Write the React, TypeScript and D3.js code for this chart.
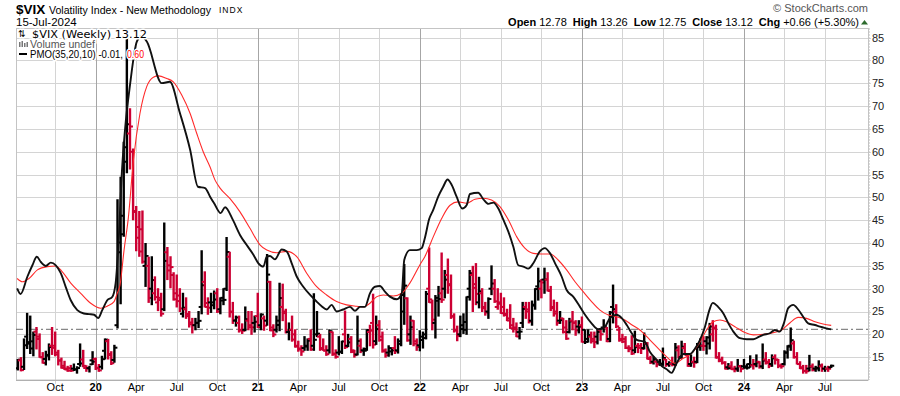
import React from 'react';
import * as d3 from 'd3';

// ---------- DATA ----------
const firstWeek = '2019-07-15';
const prevClose = 12.39;
// weekly [open, high, low, close]
const ohlc2019: number[][] = [
  [12.6,14.5,12.2,14.45],[14.3,14.9,12.0,12.16],[12.9,19.0,12.3,17.61],[19.5,24.6,16.9,17.97],
  [18.3,24.0,15.8,18.47],[16.9,20.5,15.3,19.87],[20.6,21.5,16.8,18.98],[19.5,20.1,15.0,15.0],
  [15.0,16.0,13.7,13.74],[14.6,16.3,13.3,15.32],[15.5,17.9,14.4,17.22],[17.5,21.5,15.6,17.04],
  [17.5,20.5,15.3,15.58],[16.0,16.5,13.3,14.25],[14.3,14.8,12.6,12.65],[13.1,14.1,12.3,12.3],
  [12.5,13.0,11.9,12.07],[12.6,13.2,11.9,12.05],[12.5,13.5,12.1,12.34],[12.3,12.9,11.5,12.62],
  [13.5,17.9,13.0,13.62],[14.5,16.5,12.9,12.63],[13.1,13.1,11.9,12.51],[12.6,13.0,11.75,13.43],
  [14.3,16.2,13.4,14.02],
];
const ohlc2020: number[][] = [
  [14.6,14.8,12.3,12.56],[12.7,13.4,11.9,12.1],[12.9,15.2,12.4,14.56],[16.4,19.0,14.6,18.84],
  [18.5,18.9,14.6,15.47],[15.7,16.2,13.4,13.68],[14.4,17.6,13.9,17.08],[22.0,49.5,21.4,40.11],
  [38.0,54.4,26.7,41.94],[46.0,62.1,41.5,57.83],[61.0,85.5,55.4,66.04],[64.0,69.4,56.2,65.54],
  [60.0,60.6,45.1,46.8],[47.0,48.0,38.3,41.17],[43.5,46.9,37.1,38.15],[43.0,47.0,35.6,35.93],
  [35.0,39.9,30.5,37.19],[35.0,36.9,27.0,27.98],[30.0,37.0,26.5,31.89],[29.0,32.6,27.5,28.16],
  [27.0,30.0,25.2,27.51],[28.0,29.0,24.0,24.52],[25.5,44.4,25.2,36.09],[38.0,39.0,32.0,35.12],
  [34.0,37.0,30.2,34.73],[33.0,33.5,27.5,27.68],[29.0,33.0,26.0,27.29],[28.5,30.0,25.0,25.68],
  [24.5,29.0,23.8,25.84],[25.5,28.0,23.5,24.46],[24.0,25.0,21.6,22.21],[22.6,23.5,20.3,22.05],
  [22.0,23.5,21.0,22.54],[22.5,25.0,21.5,22.96],[26.0,38.3,24.5,30.75],[31.5,33.7,26.0,26.87],
  [26.0,28.0,24.4,25.83],[27.0,29.0,24.8,26.38],[27.0,29.5,25.6,27.63],[29.0,30.0,24.8,25.0],
  [25.5,28.0,24.5,27.41],[28.0,30.0,26.5,27.55],[30.0,41.2,29.6,38.02],[37.0,38.0,23.8,24.86],
  [25.0,27.0,22.4,23.1],[23.0,24.0,21.8,23.7],[22.5,24.0,20.5,20.84],[21.0,22.3,20.2,20.79],
  [21.0,26.0,20.8,23.31],[23.0,25.0,21.0,21.57],[22.0,25.0,20.0,21.53],[22.5,24.0,20.5,22.75],
];
const ohlc2021: number[][] = [
  [24.0,29.0,21.5,21.56],[22.0,24.5,21.0,24.34],[23.5,24.0,20.9,21.91],[23.0,37.5,22.0,33.09],
  [31.5,31.6,20.8,20.87],[21.5,22.1,19.5,19.97],[21.0,24.0,20.5,22.05],[23.0,31.2,20.8,27.95],
  [26.0,31.0,23.0,24.66],[25.0,25.5,20.3,20.69],[20.5,22.5,18.8,20.95],[21.0,24.0,18.5,18.86],
  [20.0,21.0,17.2,17.33],[17.5,18.5,16.3,16.69],[16.9,17.5,15.4,16.25],[17.0,19.5,16.5,17.33],
  [17.5,19.0,16.5,18.61],[19.0,21.0,16.5,16.69],[17.5,28.9,16.5,18.81],[20.0,25.0,19.5,20.15],
  [19.5,20.0,16.5,16.76],[17.0,19.0,16.5,16.42],[16.5,17.5,15.4,15.65],[16.5,21.0,15.9,20.7],
  [20.5,20.5,15.4,15.62],[15.8,16.6,14.8,15.07],[16.0,19.5,15.5,16.18],[16.2,18.5,15.8,18.45],
  [20.0,25.1,16.9,17.2],[17.5,20.0,17.3,18.24],[19.0,19.5,16.0,16.15],[16.5,16.5,15.0,15.45],
  [15.6,24.0,15.5,18.56],[17.5,19.0,16.0,16.39],[16.5,17.0,15.4,16.41],[16.8,21.0,16.5,20.95],
  [20.5,22.0,17.5,20.81],[22.5,28.8,17.0,17.75],[18.5,24.0,17.8,21.15],[22.0,23.0,18.5,18.77],
  [19.5,20.5,16.1,16.3],[16.5,16.8,15.0,15.43],[16.0,17.5,15.2,16.26],[17.0,17.0,15.5,16.48],
  [17.0,19.5,15.8,16.29],[16.5,19.0,15.9,17.91],[18.5,28.9,17.5,28.62],[25.0,35.3,22.2,30.67],
  [27.9,28.0,18.5,18.69],[20.0,24.0,17.8,21.57],[23.0,23.0,17.5,17.96],[18.5,19.0,16.5,17.22],
];
const ohlc2022: number[][] = [
  [17.6,20.8,16.4,18.76],[19.5,20.5,17.0,19.19],[20.0,29.4,19.0,28.85],[30.0,38.9,27.0,27.66],
  [27.0,27.5,21.0,23.22],[22.5,28.5,19.2,27.36],[28.0,30.5,24.0,27.75],[29.0,37.8,27.0,27.59],
  [30.0,34.0,28.0,31.98],[33.0,36.5,29.0,30.75],[31.0,33.0,23.5,23.87],[24.0,24.5,20.5,20.81],
  [21.0,21.8,18.6,19.63],[20.0,24.0,19.5,21.16],[22.0,24.5,20.2,22.7],[21.0,28.2,20.0,28.21],
  [30.0,34.0,27.5,33.4],[33.0,34.9,25.0,30.19],[31.0,35.5,26.5,28.87],[27.0,32.5,25.8,29.43],
  [29.0,30.0,25.0,25.72],[26.0,27.0,24.2,24.79],[25.0,28.0,23.5,27.75],[30.0,35.0,28.7,31.13],
  [30.0,32.0,27.0,27.23],[26.0,30.0,25.5,26.7],[27.0,29.0,24.6,24.64],[26.0,28.0,24.0,24.23],
  [24.5,25.5,23.0,23.03],[23.5,26.5,21.3,21.33],[22.0,23.5,20.5,21.15],[21.5,22.5,19.5,19.53],
  [20.5,21.5,19.0,20.6],[22.5,27.0,21.5,25.56],[26.0,27.0,23.5,25.47],[25.0,27.0,22.5,22.79],
  [23.0,27.3,22.0,26.3],[26.5,30.0,25.5,29.92],[30.5,34.5,27.5,31.62],[30.0,32.0,28.0,31.36],
  [32.0,34.5,29.0,32.02],[32.0,33.5,29.5,29.69],[29.5,30.5,25.2,25.75],[26.0,27.5,24.0,24.55],
  [25.0,27.0,22.0,22.52],[23.0,25.0,22.4,23.12],[23.5,23.5,20.3,20.5],[21.5,23.0,18.9,19.06],
  [20.5,23.5,20.3,22.83],[23.0,25.0,21.0,22.62],[22.5,23.0,19.8,20.87],[21.7,23.0,20.3,21.67],
];
const ohlc2023: number[][] = [
  [22.0,23.8,18.3,18.35],[21.0,21.0,18.0,18.35],[19.0,21.0,18.3,19.85],[19.5,20.5,18.1,18.51],
  [19.0,20.5,17.1,18.33],[19.5,21.0,17.9,20.53],[21.0,21.0,18.7,20.02],[21.5,23.2,20.5,21.67],
  [21.5,21.5,18.4,18.49],[19.0,25.0,18.4,24.8],[26.0,30.8,22.5,25.51],[25.0,26.5,21.5,21.74],
  [21.0,21.5,18.5,18.7],[19.0,20.0,18.2,18.4],[19.0,19.5,16.9,17.07],[17.0,17.5,16.2,16.77],
  [17.0,19.7,15.6,15.78],[16.5,20.7,16.0,17.19],[17.5,18.0,16.0,17.03],[17.5,18.0,15.8,16.81],
  [17.0,20.3,16.8,17.95],[18.0,18.2,14.6,14.6],[14.8,15.2,13.6,13.83],[14.0,15.0,13.5,14.5],
  [14.0,14.5,12.9,13.44],[14.0,14.5,13.2,13.59],[13.5,17.0,13.2,14.83],[14.5,14.5,13.0,13.34],
  [13.5,14.0,13.0,13.6],[13.5,15.0,13.1,13.33],[13.5,18.0,13.2,17.1],[16.5,17.5,14.8,14.84],
  [15.0,18.5,14.8,17.3],[17.0,18.0,15.5,15.68],[15.5,15.5,13.0,13.09],[13.5,15.5,13.0,13.84],
  [14.0,15.0,12.8,13.79],[14.0,18.0,13.8,17.2],[17.5,19.0,16.5,17.52],[17.5,19.5,16.5,17.45],
  [18.5,19.5,15.7,19.32],[18.0,22.4,16.8,21.71],[20.0,23.0,18.5,21.27],[21.5,22.0,14.8,14.91],
  [15.0,16.0,14.0,14.17],[14.5,15.0,13.5,13.8],[13.8,14.0,12.4,12.46],[12.8,13.6,12.4,12.63],
  [13.0,14.0,12.3,12.35],[12.5,13.0,11.8,12.28],[12.5,14.5,11.9,13.03],[13.0,13.2,11.8,12.45],
];
const ohlc2024: number[][] = [
  [13.0,14.5,12.6,12.7],[13.0,13.5,12.4,12.7],[13.5,15.3,12.8,13.3],[13.2,14.5,12.4,13.26],
  [13.5,15.5,12.9,13.85],[14.0,14.0,12.6,12.93],[13.0,17.9,12.5,14.24],[14.5,16.0,13.5,13.75],
  [14.0,14.5,12.7,13.11],[13.5,15.5,13.0,14.74],[15.0,15.5,13.5,14.41],[14.5,14.5,12.7,13.06],
  [13.2,13.5,12.6,13.01],[13.5,16.4,13.3,16.03],[16.0,17.5,14.8,17.31],[17.5,21.4,16.5,18.71],
  [18.0,18.5,14.8,15.03],[15.0,16.0,13.5,13.49],[13.5,14.0,12.5,12.55],[12.8,13.2,11.5,11.99],
  [12.0,13.2,11.5,11.93],[12.5,15.4,12.0,12.92],[13.0,13.5,12.0,12.22],[12.5,13.0,11.9,12.66],
  [12.5,14.2,12.0,13.2],[13.0,13.5,11.9,12.44],[12.5,13.0,11.9,12.48],[12.5,13.0,11.9,12.46],
  [12.78,13.26,12.75,13.12],
];
// PMO line and its signal: [weeks since first bar, value]
const pmoLine: number[][] = [
  [-0.2,6.2],[0.9,5.35],[3.1,8.0],[4.7,9.7],[6.1,11.0],[7.4,10.2],[9.0,9.6],[10.6,10.1],[12.2,9.7],
  [13.8,8.5],[15.4,6.4],[17.0,4.4],[19.1,2.9],[21.2,2.4],[22.9,2.3],[24.5,2.2],[25.8,1.7],[27.1,2.9],
  [28.7,4.4],[30.3,4.9],[31.4,7.0],[32.2,12.0],[33.5,24.6],[34.4,30.2],[36.0,37.0],[38.2,43.6],
  [39.7,44.4],[41.4,43.6],[46.2,37.3],[48.8,37.5],[52.0,32.8],[55.3,27.2],[57.8,21.6],[60.1,21.4],
  [61.7,20.1],[63.0,19.1],[65.1,17.6],[66.5,18.5],[69.1,16.5],[71.3,14.3],[73.4,12.8],[75.6,11.3],
  [77.2,10.0],[78.8,9.5],[79.9,11.0],[80.9,11.1],[82.5,10.6],[84.7,12.1],[86.3,11.8],[87.9,10.0],
  [89.5,8.0],[91.6,6.45],[93.8,5.2],[95.9,4.2],[97.5,3.5],[99.1,3.0],[100.7,3.7],[102.3,2.7],
  [104.4,3.0],[106.6,3.4],[108.2,2.8],[109.8,3.4],[111.4,3.4],[113.0,5.45],[114.6,6.45],[116.2,6.55],
  [117.8,5.7],[119.4,4.95],[121.6,4.55],[123.2,5.45],[124.0,10.5],[125.8,12.0],[128.0,12.0],
  [129.6,12.3],[130.6,13.8],[132.0,16.7],[133.3,18.1],[134.9,20.1],[136.5,21.6],[137.9,22.7],
  [139.2,21.9],[140.8,20.1],[142.6,18.3],[144.0,18.8],[145.1,20.5],[147.7,20.7],[149.4,19.7],
  [151.0,19.0],[152.6,19.2],[154.2,18.3],[155.8,16.6],[157.4,14.8],[159.0,12.5],[160.6,9.7],
  [162.2,9.5],[163.8,9.2],[165.4,10.0],[167.5,11.8],[169.1,12.3],[170.8,11.5],[172.4,10.0],
  [174.5,8.0],[176.1,5.95],[178.2,4.95],[180.4,3.4],[182.0,2.2],[184.1,0.9],[186.2,0.0],[188.4,0.4],
  [190.0,1.7],[192.1,2.2],[193.8,1.7],[195.4,0.65],[197.0,-0.6],[198.6,-1.6],[201.2,-1.9],
  [202.8,-3.4],[205.0,-4.65],[206.6,-5.55],[208.2,-6.05],[209.8,-6.6],[211.4,-5.15],[213.5,-3.75],
  [215.7,-3.75],[217.3,-2.9],[218.9,-1.6],[220.5,0.4],[221.9,2.9],[223.0,4.0],[224.7,3.4],
  [226.4,2.4],[228.0,0.9],[229.6,-0.35],[231.7,-1.35],[233.9,-1.5],[236.0,-1.5],[237.6,-1.2],
  [239.2,-0.85],[241.3,-0.6],[242.9,-0.1],[244.5,-0.35],[245.8,0.9],[247.2,3.2],[248.8,3.7],
  [250.4,3.0],[252.0,1.9],[253.6,0.9],[255.8,0.65],[257.4,0.4],[259.5,0.15],[261,-0.01],
];
const pmoSignal: number[][] = [
  [-0.2,7.7],[1.5,7.2],[3.6,7.7],[6.3,9.0],[9.5,9.5],[12.2,9.6],[14.3,8.7],[17.0,7.0],[20.2,5.45],
  [23.4,3.95],[26.6,3.2],[28.7,3.5],[30.9,4.2],[31.9,5.45],[32.8,6.7],[34.1,12.0],[35.5,17.0],
  [37.1,25.6],[39.2,32.7],[41.4,36.8],[43.5,38.2],[45.1,38.4],[47.8,38.0],[49.9,37.5],[52.6,35.5],
  [55.3,32.7],[57.4,29.7],[59.5,26.9],[61.7,24.6],[63.3,22.6],[64.9,21.4],[68.1,19.8],[71.3,17.8],
  [74.5,15.3],[77.7,12.8],[79.9,12.0],[83.1,11.6],[86.3,11.8],[89.5,11.0],[92.7,8.5],[95.9,6.45],
  [99.1,5.2],[102.3,4.2],[105.5,3.7],[108.7,3.5],[110.9,3.4],[113.0,3.95],[115.2,4.95],[117.3,5.2],
  [120.5,5.05],[123.2,5.45],[125.8,7.0],[129.0,9.75],[130.6,11.0],[133.3,14.0],[136.0,16.8],
  [138.7,18.8],[141.3,19.3],[144.0,19.1],[146.7,19.7],[149.4,19.85],[152.0,19.6],[154.7,18.6],
  [157.4,16.6],[160.1,14.0],[162.7,12.3],[165.4,11.5],[168.1,11.4],[170.8,11.4],[173.4,10.5],
  [176.1,9.0],[178.8,7.2],[181.4,5.7],[184.1,4.2],[186.8,2.9],[189.5,2.15],[192.1,1.9],[194.8,1.4],
  [197.1,0.65],[199.6,-0.1],[202.8,-1.6],[206.0,-3.15],[208.7,-4.4],[210.9,-5.15],[213.5,-4.4],
  [216.2,-3.65],[218.9,-1.9],[221.0,-0.1],[223.1,1.15],[225.3,1.4],[227.4,1.15],[230.1,0.4],
  [233.3,-0.5],[236.0,-0.85],[239.2,-0.75],[242.4,-0.5],[245.1,-0.1],[247.8,1.0],[250.4,1.8],
  [253.1,1.65],[255.8,1.15],[258.4,0.8],[261,0.6],
];
const priceTicks = [15, 20, 25, 30, 35, 40, 45, 50, 55, 60, 65, 70, 75, 80, 85];
const monthNames = ['Jan','Feb','Mar','Apr','May','Jun','Jul','Aug','Sep','Oct','Nov','Dec'];
const quoteItems = [['Open','12.78'],['High','13.26'],['Low','12.75'],['Close','13.12'],['Chg','+0.66 (+5.30%)']];

// ---------- CHART ----------
const W = 900, H = 396;
const L = 16, R = 868, T = 28.5, B = 380;
const RED = '#cc0033';
const FONT = '"Liberation Sans", Arial, sans-serif';

export default function App() {
  const bars = [...ohlc2019, ...ohlc2020, ...ohlc2021, ...ohlc2022, ...ohlc2023, ...ohlc2024];
  const start = new Date(firstWeek + 'T00:00:00Z');
  const dates = bars.map((_, i) => d3.utcDay.offset(start, 7 * i));

  const x = d3.scaleLinear().domain([-0.57, 272.8]).range([L, R]);
  const y = d3.scaleLinear().domain([10, 87]).range([B, T]);
  const p = d3.scaleLinear().domain([0, 40]).range([329.3, 65.3]);

  const line = d3.line<number[]>().x(d => x(d[0])).y(d => p(d[1])).curve(d3.curveMonotoneX);

  const xTicks: { i: number; label: string; year: boolean }[] = [];
  dates.forEach((d, i) => {
    if (i === 0) return;
    const m = d.getUTCMonth();
    if (m !== dates[i - 1].getUTCMonth() && m % 3 === 0) {
      xTicks.push({ i, label: m === 0 ? String(d.getUTCFullYear()).slice(2) : monthNames[m], year: m === 0 });
    }
  });

  const halo = { paintOrder: 'stroke' as const, stroke: '#fff', strokeWidth: 3, strokeLinejoin: 'round' as const };

  return (
    <svg width={W} height={H} style={{ position: 'absolute', left: 0, top: 0, background: '#fff' }} fontFamily={FONT}>
      <rect x={0} y={0} width={W} height={H} fill="#fff" />
      <defs>
        <clipPath id="plotClip"><rect x={L} y={T} width={R - L} height={B - T} /></clipPath>
      </defs>

      {/* header */}
      <text x={16} y={13.5} fontSize={13.5} fontWeight="bold">$VIX</text>
      <text x={49} y={13.5} fontSize={10.6}>Volatility Index - New Methodology</text>
      <text x={219} y={13} fontSize={8.5} letterSpacing={1}>INDX</text>
      <text x={16} y={26} fontSize={11.5}>15-Jul-2024</text>
      <text x={868} y={11.5} fontSize={11} fill="#555" textAnchor="end">© StockCharts.com</text>
      <text x={859} y={25.5} fontSize={11} textAnchor="end">
        {quoteItems.map(([k, v], j) => (
          <tspan key={k}>
            <tspan fontWeight="bold" dx={j === 0 ? 0 : 6}>{k}</tspan>
            <tspan dx={3}>{v}</tspan>
          </tspan>
        ))}
      </text>
      <path d="M861,24.5 L868,24.5 L864.5,20 Z" fill="#2d6b2d" />

      {/* grid */}
      {priceTicks.map(t => (
        <line key={'h' + t} x1={L} x2={R + 3} y1={Math.round(y(t)) + 0.5} y2={Math.round(y(t)) + 0.5} stroke="#d4d4d4" />
      ))}
      {xTicks.map(t => (
        <line key={'v' + t.i} x1={Math.round(x(t.i)) + 0.5} x2={Math.round(x(t.i)) + 0.5} y1={T} y2={B + 4}
          stroke={t.year ? '#a6a6a6' : '#d4d4d4'} />
      ))}
      <rect x={L + 0.5} y={T} width={R - L} height={B - T} fill="none" stroke="#c4c4c4" />
      <line x1={L} x2={R} y1={B + 0.5} y2={B + 0.5} stroke="#b0b0b0" />
      <line x1={R + 1.5} x2={R + 1.5} y1={T} y2={B} stroke="#bbb" strokeDasharray="1,2" />

      {/* PMO zero line */}
      <line x1={L} x2={R} y1={p(0)} y2={p(0)} stroke="#6a6a6a" strokeDasharray="7,3,2,3" />

      <g clipPath="url(#plotClip)">
        {bars.map((d, i) => {
          const [o, h, l, c] = d;
          const pc = i === 0 ? prevClose : bars[i - 1][3];
          const col = c >= pc ? '#000' : RED;
          const cx = x(i);
          return (
            <g key={i} stroke={col}>
              <line x1={cx} x2={cx} y1={y(h) - 0.5} y2={y(l) + 0.5} strokeWidth={2.4} />
              <line x1={cx - 3} x2={cx} y1={y(o)} y2={y(o)} strokeWidth={2} />
              <line x1={cx} x2={cx + 3} y1={y(c)} y2={y(c)} strokeWidth={2} />
            </g>
          );
        })}
        <path d={line(pmoSignal) || ''} fill="none" stroke="#ff2a2a" strokeWidth={1.1} />
        <path d={line(pmoLine) || ''} fill="none" stroke="#111" strokeWidth={1.9} />
      </g>

      {/* legend */}
      <g fontSize={10}>
        <text x={18} y={37} fontSize={8.5} {...halo}>⇅</text>
        <text x={32} y={37.5} fontFamily='"DejaVu Sans", Verdana, sans-serif' fontSize={10} textLength={115} lengthAdjust="spacingAndGlyphs" {...halo}>$VIX (Weekly) 13.12</text>
        <rect x={19} y={42} width={1.5} height={5} fill="#777" />
        <rect x={21.5} y={41} width={1.5} height={6} fill="#777" />
        <rect x={24} y={43} width={1.5} height={4} fill="#777" />
        <rect x={26.5} y={42} width={1.5} height={5} fill="#777" />
        <text x={30} y={47.5} fill="#555" textLength={65} lengthAdjust="spacingAndGlyphs" {...halo}>Volume undef</text>
        <line x1={19} x2={27} y1={54} y2={54} stroke="#000" strokeWidth={2} />
        <text x={30} y={58} textLength={93} lengthAdjust="spacingAndGlyphs" {...halo}>PMO(35,20,10) -0.01,</text>
        <text x={127} y={58} fill="#ff0000" textLength={17} lengthAdjust="spacingAndGlyphs" {...halo}>0.60</text>
      </g>

      {/* right axis */}
      {priceTicks.map(t => (
        <text key={'yl' + t} x={872} y={y(t)} dy="0.36em" fontSize={11} fill="#222">{t}</text>
      ))}

      {/* bottom axis labels */}
      {xTicks.map(t => (
        <text key={'xl' + t.i} x={x(t.i)} y={391} textAnchor="middle" fontSize={11} fontWeight={t.year ? 'bold' : 'normal'}>{t.label}</text>
      ))}
    </svg>
  );
}
